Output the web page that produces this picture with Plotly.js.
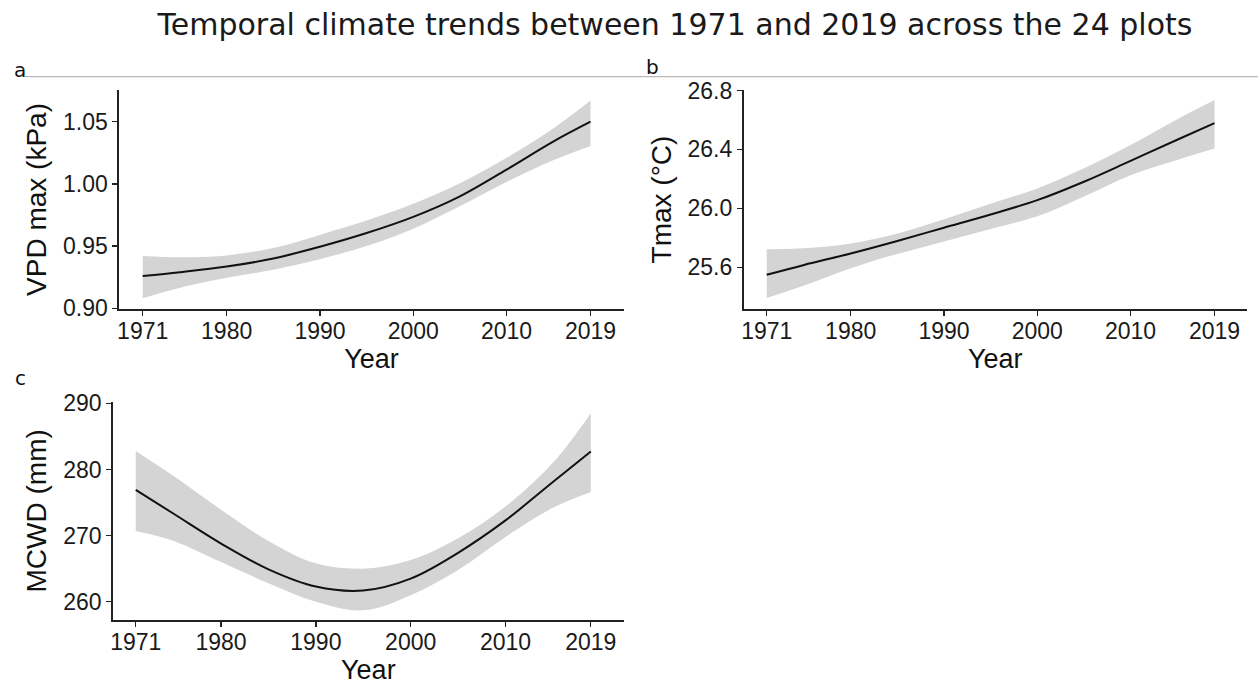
<!DOCTYPE html>
<html>
<head>
<meta charset="utf-8">
<script src="https://cdn.plot.ly/plotly-3.0.1.min.js"></script>
<style>
  html, body { margin: 0; padding: 0; background: #fff; }
  #plot { width: 1258px; height: 687px; }
</style>
</head>
<body>
<div id="plot"></div>
<script>
// values (smoothed fit + 95% band)
const years = [1971, 1975, 1980, 1985, 1990, 1995, 2000, 2005, 2010, 2015, 2019];

const vpdFit = [0.926, 0.929, 0.9335, 0.940, 0.9495, 0.9605, 0.9735, 0.990, 1.0115, 1.034, 1.050];
const vpdUpper = [0.942, 0.941, 0.9425, 0.9485, 0.959, 0.9705, 0.984, 1.0005, 1.021, 1.0445, 1.067];
const vpdLower = [0.908, 0.9165, 0.9245, 0.931, 0.9395, 0.950, 0.964, 0.982, 1.0015, 1.019, 1.0305];

const tmaxFit = [25.548, 25.615, 25.693, 25.778, 25.868, 25.958, 26.055, 26.180, 26.322, 26.465, 26.578];
const tmaxUpper = [25.722, 25.728, 25.760, 25.828, 25.925, 26.030, 26.135, 26.272, 26.430, 26.605, 26.735];
const tmaxLower = [25.39, 25.475, 25.593, 25.690, 25.775, 25.860, 25.945, 26.080, 26.225, 26.328, 26.405];

const mcwdFit = [276.9, 273.3, 268.8, 264.9, 262.3, 261.7, 263.5, 267.4, 272.3, 278.1, 282.7];
const mcwdUpper = [282.8, 279.0, 273.9, 269.2, 265.8, 265.0, 266.3, 269.6, 274.4, 281.0, 288.5];
const mcwdLower = [270.7, 269.2, 266.0, 262.8, 260.0, 258.7, 261.0, 264.8, 269.8, 274.2, 276.6];

const yearTicks = [1971, 1980, 1990, 2000, 2010, 2019];

const W = 1258;
const H = 687;
const axisFont = 'Liberation Sans, Arial, sans-serif';
const bandColor = '#d4d4d4';
const lineColor = '#111111';

function panelTraces(x, fit, upper, lower, xa, ya) {
  const lo = {
    x, y: lower, xaxis: xa, yaxis: ya, mode: 'lines', type: 'scatter',
    line: { width: 0, color: 'rgba(0,0,0,0)', shape: 'spline' },
    hoverinfo: 'skip', showlegend: false,
  };
  const hi = {
    x, y: upper, xaxis: xa, yaxis: ya, mode: 'lines', type: 'scatter',
    fill: 'tonexty', fillcolor: bandColor,
    line: { width: 0, color: 'rgba(0,0,0,0)', shape: 'spline' },
    hoverinfo: 'skip', showlegend: false,
  };
  const ln = {
    x, y: fit, xaxis: xa, yaxis: ya, mode: 'lines', type: 'scatter',
    line: { width: 2, color: lineColor, shape: 'spline' },
    showlegend: false,
  };
  return [lo, hi, ln];
}

function xAxis(domain, range, anchor) {
  return {
    domain, range, anchor,
    tickvals: yearTicks,
    showline: true, linecolor: '#222', linewidth: 1.6,
    ticks: 'outside', ticklen: 5, tickcolor: '#222', tickwidth: 1.3,
    showgrid: false, zeroline: false,
    ticklabelstandoff: -4,
    tickfont: { family: axisFont, size: 23, color: '#1a1a1a' },
    title: { text: 'Year', font: { family: axisFont, size: 27, color: '#111' }, standoff: 3 },
  };
}

function yAxis(domain, range, anchor, ticks, fmt, label) {
  return {
    domain, range, anchor,
    tickvals: ticks, tickformat: fmt,
    showline: true, linecolor: '#222', linewidth: 1.6,
    ticks: 'outside', ticklen: 5, tickcolor: '#222', tickwidth: 1.3,
    showgrid: false, zeroline: false,
    ticklabelstandoff: 0,
    tickfont: { family: axisFont, size: 23, color: '#1a1a1a' },
    title: { text: label, font: { family: axisFont, size: 28, color: '#111' }, standoff: 8 },
  };
}

const data = [
  ...panelTraces(years, vpdFit, vpdUpper, vpdLower, 'x', 'y'),
  ...panelTraces(years, tmaxFit, tmaxUpper, tmaxLower, 'x2', 'y2'),
  ...panelTraces(years, mcwdFit, mcwdUpper, mcwdLower, 'x3', 'y3'),
];

const topRow = [1 - 309 / H, 1 - 90 / H];
const bottomRow = [1 - 620 / H, 1 - 401.7 / H];

const letter = (text, x, baseline) => ({
  text, xref: 'paper', yref: 'paper', x: x / W, y: 1 - (baseline - 7) / H,
  xanchor: 'left', yanchor: 'middle', showarrow: false,
  font: { family: 'DejaVu Sans', size: 20, color: '#111' },
});

const layout = {
  width: W,
  height: H,
  margin: { l: 0, r: 0, t: 0, b: 0 },
  paper_bgcolor: '#fff',
  plot_bgcolor: '#fff',
  showlegend: false,
  title: {
    text: 'Temporal climate trends between 1971 and 2019 across the 24 plots',
    font: { family: 'DejaVu Sans', size: 30, color: '#1a1a1a' },
    x: 675 / W, xanchor: 'center', xref: 'paper',
    y: 1 - 24 / H, yanchor: 'middle', yref: 'container',
  },
  xaxis: xAxis([119 / W, 624 / W], [1968.46, 2022.59], 'y'),
  yaxis: yAxis(topRow, [0.8994, 1.0755], 'x', [0.90, 0.95, 1.00, 1.05], '.2f', 'VPD max (kPa)'),
  xaxis2: xAxis([743.5 / W, 1247 / W], [1968.51, 2022.48], 'y2'),
  yaxis2: yAxis(topRow, [25.316, 26.803], 'x2', [25.6, 26.0, 26.4, 26.8], '.1f', 'Tmax (°C)'),
  xaxis3: xAxis([112.7 / W, 624 / W], [1968.57, 2022.5], 'y3'),
  yaxis3: yAxis(bottomRow, [257.24, 290.24], 'x3', [260, 270, 280, 290], 'd', 'MCWD (mm)'),
  shapes: [
    {
      type: 'line', xref: 'paper', yref: 'paper',
      x0: 25 / W, x1: 1, y0: 1 - 76.7 / H, y1: 1 - 76.7 / H,
      line: { color: '#a8a8a8', width: 1 },
    },
  ],
  annotations: [
    letter('a', 12, 77),
    letter('b', 644, 73.5),
    letter('c', 13, 385),
  ],
};

Plotly.newPlot('plot', data, layout, { displayModeBar: false, staticPlot: true });
</script>
</body>
</html>
